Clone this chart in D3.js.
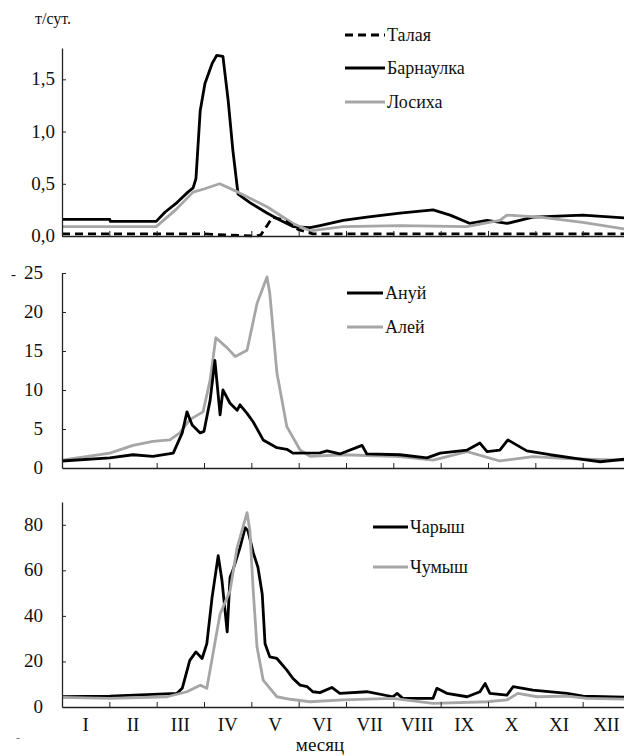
<!DOCTYPE html>
<html>
<head>
<meta charset="utf-8">
<script src="https://cdn.jsdelivr.net/npm/d3@7"></script>
</head>
<body style="margin:0">
<svg id="chart" width="624" height="756">
  <text x="35" y="24" font-family="Liberation Serif, serif" font-size="16" fill="#111">т/сут.</text>
</svg>
<script>

// month labels
var months = ["I", "II", "III", "IV", "V", "VI", "VII", "VIII", "IX", "X", "XI", "XII"]

// [month position, t/day] pairs
var talaya = [[0,0.02],[3,0.02],[3.5,0.01],[4.1,0],[4.2,0.01],[4.45,0.18],[4.7,0.15],[5,0.06],[5.3,0.02],[12,0.02]]
var barnaulka = [[0,0.16],[1.01,0.16],[1.02,0.14],[1.99,0.14],[2.18,0.23],[2.43,0.32],[2.66,0.42],[2.77,0.46],
  [2.83,0.55],[2.92,1.2],[3.02,1.46],[3.17,1.65],[3.27,1.73],[3.4,1.72],[3.51,1.3],[3.61,0.82],[3.72,0.4],
  [3.97,0.32],[4.33,0.22],[4.61,0.15],[4.88,0.09],[5.24,0.08],[5.45,0.1],[5.94,0.15],[6.44,0.18],[7.14,0.22],
  [7.84,0.25],[8.2,0.2],[8.62,0.12],[8.98,0.15],[9.4,0.12],[9.95,0.18],[11.0,0.2],[12,0.17]]
var losikha = [[0,0.09],[1.99,0.09],[2.4,0.25],[2.77,0.42],[3.0,0.45],[3.33,0.5],[3.72,0.42],[4.33,0.28],
  [4.88,0.12],[5.24,0.05],[5.94,0.09],[7.14,0.1],[8.55,0.09],[9.25,0.15],[9.4,0.2],[10.1,0.18],[11.0,0.13],[12,0.06]]

var anuy = [[0,0.9],[1.01,1.3],[1.5,1.7],[1.92,1.5],[2.35,1.9],[2.54,4.5],[2.64,7.2],[2.75,5.5],[2.92,4.5],
  [3.0,4.7],[3.13,8.7],[3.23,13.8],[3.34,6.8],[3.4,10.0],[3.55,8.3],[3.7,7.4],[3.76,8.1],[3.91,7.0],[4.04,5.9],
  [4.25,3.6],[4.54,2.6],[4.75,2.4],[4.88,1.9],[5.45,1.95],[5.6,2.2],[5.87,1.8],[6.34,2.9],[6.44,1.8],[7.14,1.7],
  [7.71,1.3],[7.99,1.9],[8.56,2.3],[8.83,3.2],[8.98,2.1],[9.25,2.3],[9.42,3.6],[9.82,2.2],[10.31,1.7],
  [10.88,1.2],[11.37,0.8],[12,1.2]]
var aley = [[0,1.0],[1.01,1.9],[1.5,2.9],[1.92,3.4],[2.28,3.6],[2.49,4.5],[2.7,6.2],[2.98,7.2],[3.13,11.3],
  [3.25,16.7],[3.49,15.4],[3.66,14.3],[3.91,15.1],[4.12,21.1],[4.33,24.5],[4.39,22.4],[4.54,12.2],[4.75,5.3],
  [5.03,2.3],[5.24,1.5],[5.94,1.7],[7.14,1.45],[7.84,1.0],[8.56,2.1],[9.25,0.9],[9.95,1.45],[10.67,1.2],[12,1.0]]

var charysh = [[0,4.5],[1.01,4.8],[1.92,5.5],[2.43,6.0],[2.54,8.2],[2.7,20.5],[2.83,24.2],[2.96,21.3],
  [3.06,27.8],[3.17,48],[3.3,66.4],[3.38,55.5],[3.49,33],[3.55,57],[3.61,60],[3.76,70],[3.87,78.7],[3.93,77.3],
  [4.04,67.8],[4.14,61.3],[4.23,49.6],[4.29,27.8],[4.39,22],[4.54,21.3],[4.75,16.2],[4.88,12.5],[5.03,9.6],
  [5.18,8.9],[5.3,6.7],[5.45,6.3],[5.7,8.6],[5.87,6.0],[6.44,6.7],[6.99,4.5],[7.08,6.0],[7.2,3.8],[7.84,3.8],
  [7.92,8.2],[8.13,6.0],[8.56,4.5],[8.83,6.7],[8.94,10.3],[9.04,6.0],[9.4,5.2],[9.53,8.9],[9.95,7.4],
  [10.67,6.0],[11.01,4.8],[12,4.2]]
var chumysh = [[0,4.2],[1.01,3.8],[2.22,4.5],[2.64,6.7],[2.92,9.6],[3.06,8.2],[3.19,23.4],[3.34,40.9],
  [3.55,51],[3.7,70],[3.91,85.3],[3.97,77.3],[4.04,51],[4.12,26.3],[4.25,11.8],[4.54,4.5],[4.82,3.4],
  [5.24,2.3],[5.94,3.1],[6.99,3.8],[7.84,1.6],[8.98,2.3],[9.4,3.1],[9.63,6.0],[10.04,4.5],[10.67,4.8],
  [11.09,3.8],[12,3.4]]

var svg = d3.select("#chart")

var x = d3.scaleLinear().domain([0, 12]).range([62, 630])

// every text goes through here so the serif face is set on the element itself
function label(sel, tx, ty, size, str, anchor){
  return sel.append("text")
    .attr("x", tx).attr("y", ty)
    .attr("text-anchor", anchor || "start")
    .attr("font-family", "Liberation Serif, serif")
    .attr("font-size", size)
    .attr("fill", "#111")
    .text(str)
}

var fmtComma = function(d){ return d3.format(".1f")(d).replace(".", ",") }

var panels = [
  { top: 48, bottom: 236, max: 1.8, ticks: [0, 0.5, 1.0, 1.5], fmt: fmtComma, pad: 7,
    series: [{ data: barnaulka, color: "#000", dash: null }, { data: losikha, color: "#a6a6a6", dash: null }, { data: talaya, color: "#000", dash: "8,5" }],
    legend: { x1: 345, x2: 385, ys: [35, 68, 102], names: ["Талая", "Барнаулка", "Лосиха"], colors: ["#000", "#000", "#a6a6a6"], dashes: ["8,5", null, null] } },
  { top: 273, bottom: 468, max: 25, ticks: [0, 5, 10, 15, 20, 25], fmt: d3.format("d"), pad: 19,
    series: [{ data: aley, color: "#a6a6a6", dash: null }, { data: anuy, color: "#000", dash: null }],
    legend: { x1: 347, x2: 383, ys: [293, 327], names: ["Ануй", "Алей"], colors: ["#000", "#a6a6a6"], dashes: [null, null] } },
  { top: 502, bottom: 707, max: 90, ticks: [0, 20, 40, 60, 80], fmt: d3.format("d"), pad: 19,
    series: [{ data: charysh, color: "#000", dash: null }, { data: chumysh, color: "#a6a6a6", dash: null }],
    legend: { x1: 373, x2: 408, ys: [527, 567], names: ["Чарыш", "Чумыш"], colors: ["#000", "#a6a6a6"], dashes: [null, null] } }
]

panels.forEach(function(p, pi){
  var y = d3.scaleLinear().domain([0, p.max]).range([p.bottom, p.top])
  var g = svg.append("g")

  var line = d3.line()
    .x(function(d){ return x(d[0]) })
    .y(function(d){ return y(d[1]) })

  p.series.forEach(function(s){
    g.append("path")
      .datum(s.data)
      .attr("d", line)
      .attr("fill", "none")
      .attr("stroke", s.color)
      .attr("stroke-width", 2.8)
      .attr("stroke-linejoin", "round")
      .attr("stroke-dasharray", s.dash)
  })

  // x axis, ticks pointing up
  var xa = g.append("g")
    .attr("transform", "translate(0," + p.bottom + ")")
    .call(d3.axisBottom(x).tickValues(d3.range(0, 13)).tickSizeInner(-5).tickSizeOuter(0).tickFormat(""))
  xa.select(".domain").attr("stroke", "#222").attr("stroke-width", 1.3)
  xa.selectAll(".tick line").attr("stroke", "#222")

  // y axis: line and ticks from d3, labels as own texts
  var ya = g.append("g")
    .attr("transform", "translate(62,0)")
    .call(d3.axisLeft(y).tickValues(p.ticks).tickSizeInner(-4).tickSizeOuter(0).tickFormat(""))
  ya.select(".domain").attr("stroke", "#222").attr("stroke-width", 1.3)
  ya.selectAll(".tick line").attr("stroke", "#222")
  ya.selectAll(".tick").filter(function(d){ return d === 0 && pi > 0 }).select("line").remove()

  p.ticks.forEach(function(t){
    label(g, 62 - p.pad, y(t) + 6, 19, p.fmt(t), "end")
  })

  // legend
  p.legend.names.forEach(function(n, i){
    var ly = p.legend.ys[i]
    g.append("line")
      .attr("x1", p.legend.x1).attr("x2", p.legend.x2)
      .attr("y1", ly).attr("y2", ly)
      .attr("stroke", p.legend.colors[i])
      .attr("stroke-width", 3)
      .attr("stroke-dasharray", p.legend.dashes[i])
    label(g, p.legend.x2 + 2, ly + 6, 18, n)
  })
})

// month labels under the bottom panel
months.forEach(function(m, i){
  label(svg, x(i + 0.5), 731, 19, m, "middle")
})

label(svg, 320, 751, 19, "месяц", "middle")
label(svg, 11, 279, 15, "-")
label(svg, 16, 742, 12, "-").attr("fill", "#777")

</script>
</body>
</html>
